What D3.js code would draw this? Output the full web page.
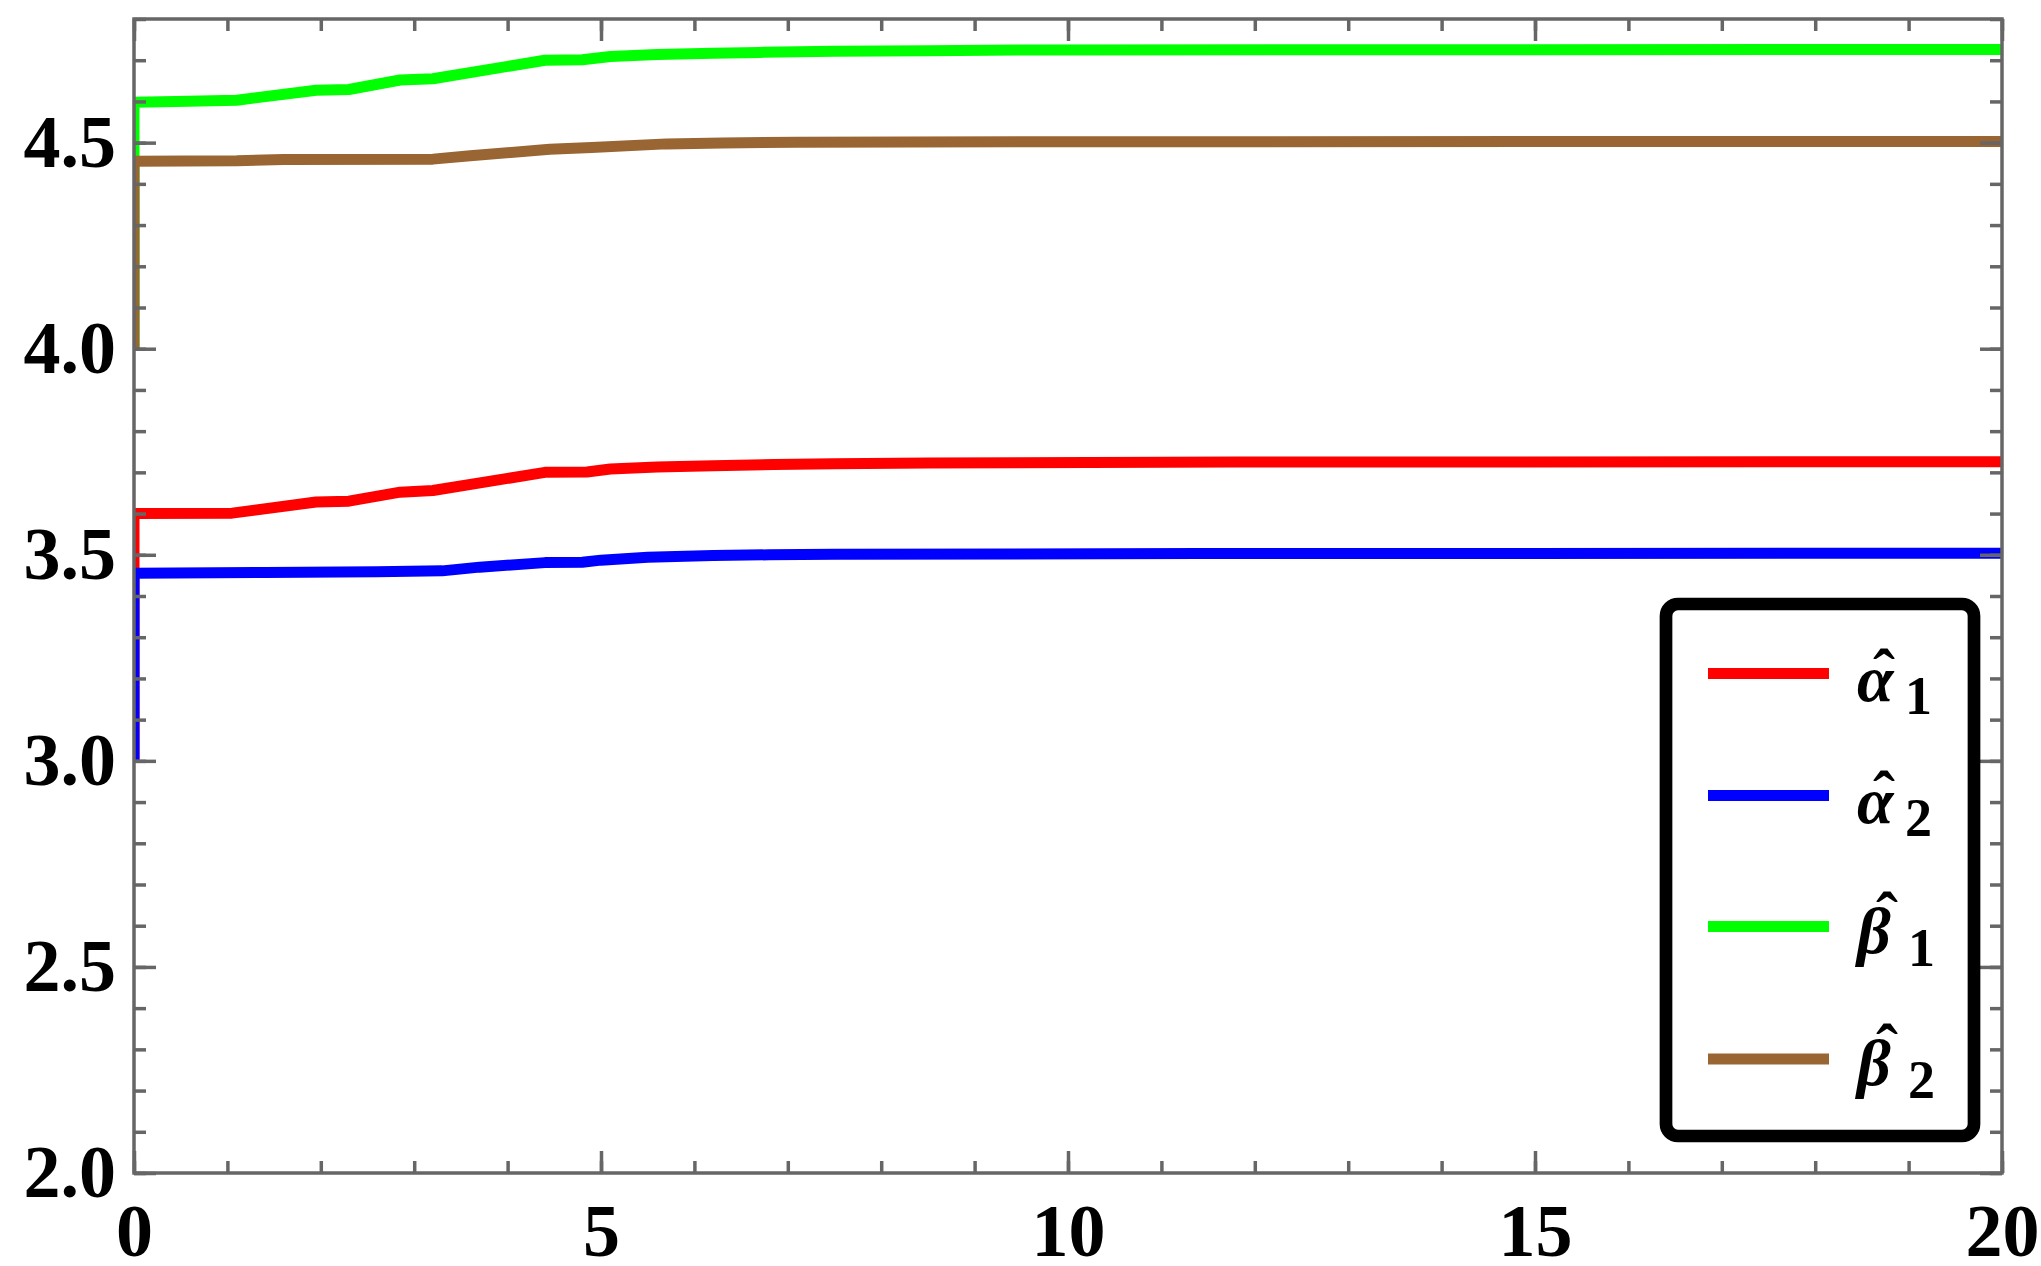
<!DOCTYPE html>
<meta charset="utf-8">
<script src="https://cdn.jsdelivr.net/npm/d3@7"></script>
<style>
  body { margin: 0; background: #fff; }
  svg { display: block; }
</style>
<body>
<div id="draw"></div>
</body>
<script>

  // estimates: [x, value]
  var alpha1 = [[0,3.0],[0,3.600],[1.05,3.601],[1.95,3.628],[2.3,3.630],[2.85,3.652],[3.2,3.656],
                [4.4,3.700],[4.85,3.701],[5.1,3.708],[5.6,3.713],[6.2,3.716],[6.85,3.719],[7.5,3.721],
                [8.5,3.723],[11.8,3.725],[20,3.726]];
  var alpha2 = [[0,3.0],[0,3.455],[1.4,3.457],[2.6,3.459],[3.3,3.461],[3.7,3.470],[4.4,3.481],
                [4.8,3.482],[5.0,3.487],[5.5,3.494],[6.2,3.498],[6.8,3.500],[7.5,3.501],
                [11.4,3.503],[20,3.504]];
  var beta1  = [[0,4.0],[0,4.598],[0.45,4.600],[1.1,4.603],[1.95,4.627],[2.3,4.629],[2.85,4.652],
                [3.2,4.655],[4.4,4.700],[4.8,4.701],[5.1,4.709],[5.6,4.714],[6.2,4.717],[6.7,4.719],
                [7.5,4.722],[8.5,4.723],[9.7,4.725],[20,4.726]];
  var beta2  = [[0,4.0],[0,4.455],[1.1,4.456],[1.6,4.459],[3.2,4.460],[3.6,4.468],[4.45,4.484],
                [4.9,4.488],[5.7,4.497],[6.3,4.499],[7.1,4.501],[9.6,4.502],[20,4.503]];

  var seriesList   = [alpha1, alpha2, beta1, beta2];
  var seriesColors = ["#ff0000", "#0000ff", "#00ff00", "#996633"];
  var legendSymbols = ["α", "α", "β", "β"];
  var legendSubs    = ["1", "2", "1", "2"];

  var xMajorTicks = [0, 5, 10, 15, 20];
  var xTickLabels = ["0", "5", "10", "15", "20"];
  var yMajorTicks = [2.0, 2.5, 3.0, 3.5, 4.0, 4.5];
  var yTickLabels = ["2.0", "2.5", "3.0", "3.5", "4.0", "4.5"];
  var xMinorTicks = d3.range(0, 21, 1);
  var yMinorTicks = d3.range(20, 49, 1).map(function(d){ return d / 10; });

  var width = 2041, height = 1266;
  var plot = {left: 134, right: 2002, top: 19, bottom: 1173};
  var frameColor = "#666666";
  var font = "'Liberation Serif', 'Times New Roman', serif";

  var svg = d3.select("#draw").append("svg")
    .attr("width", width).attr("height", height);

  var x = d3.scaleLinear().domain([0, 20]).range([plot.left, plot.right]);
  var y = d3.scaleLinear().domain([2, 4.8]).range([plot.bottom, plot.top]);

  svg.append("clipPath").attr("id", "plotclip")
    .append("rect")
    .attr("x", plot.left).attr("y", plot.top)
    .attr("width", plot.right - plot.left).attr("height", plot.bottom - plot.top);

  // data lines
  var line = d3.line().x(function(d){ return x(d[0]); }).y(function(d){ return y(d[1]); });
  svg.append("g").attr("clip-path", "url(#plotclip)")
    .selectAll("path").data(seriesList).enter().append("path")
    .attr("d", line)
    .attr("fill", "none")
    .attr("stroke", function(d, i){ return seriesColors[i]; })
    .attr("stroke-width", 11)
    .attr("stroke-linejoin", "round");

  // frame ticks (all pointing inward)
  function addAxis(axis, tx, ty, labels) {
    var g = svg.append("g").attr("transform", "translate(" + tx + "," + ty + ")").call(axis);
    g.select(".domain").remove();
    g.selectAll(".tick line").attr("stroke", frameColor).attr("stroke-width", 3.5);
    if (labels) {
      g.selectAll(".tick text")
        .attr("fill", "#000")
        .style("font-family", font)
        .style("font-weight", "bold")
        .style("font-size", "74px");
    } else {
      g.selectAll(".tick text").remove();
    }
    return g;
  }

  addAxis(d3.axisBottom(x).tickValues(xMinorTicks).tickSize(-12), 0, plot.bottom, false);
  addAxis(d3.axisTop(x).tickValues(xMinorTicks).tickSize(-12), 0, plot.top, false);
  addAxis(d3.axisLeft(y).tickValues(yMinorTicks).tickSize(-12), plot.left, 0, false);
  addAxis(d3.axisRight(y).tickValues(yMinorTicks).tickSize(-12), plot.right, 0, false);

  addAxis(d3.axisBottom(x).tickValues(xMajorTicks).tickSize(-22).tickPadding(30)
    .tickFormat(function(d, i){ return xTickLabels[i]; }), 0, plot.bottom, true);
  addAxis(d3.axisTop(x).tickValues(xMajorTicks).tickSize(-22), 0, plot.top, false);
  addAxis(d3.axisLeft(y).tickValues(yMajorTicks).tickSize(-22).tickPadding(18)
    .tickFormat(function(d, i){ return yTickLabels[i]; }), plot.left, 0, true);
  addAxis(d3.axisRight(y).tickValues(yMajorTicks).tickSize(-22), plot.right, 0, false);

  svg.append("rect")
    .attr("x", plot.left).attr("y", plot.top)
    .attr("width", plot.right - plot.left).attr("height", plot.bottom - plot.top)
    .attr("fill", "none").attr("stroke", frameColor).attr("stroke-width", 3.5);

  // legend
  var legend = svg.append("g");
  legend.append("rect")
    .attr("x", 1666).attr("y", 604).attr("width", 1974 - 1666).attr("height", 1136 - 604)
    .attr("rx", 12).attr("ry", 12)
    .attr("fill", "#fff").attr("stroke", "#000").attr("stroke-width", 12.7);

  var rowLineY = [673.6, 795.4, 926.6, 1059];
  var rowBaseY = [701, 823, 953, 1085];

  var rows = legend.selectAll("g.row").data(seriesColors).enter().append("g").attr("class", "row");
  rows.append("line")
    .attr("x1", 1708).attr("x2", 1829)
    .attr("y1", function(d, i){ return rowLineY[i]; })
    .attr("y2", function(d, i){ return rowLineY[i]; })
    .attr("stroke", function(d){ return d; })
    .attr("stroke-width", 11);

  // symbol, hat and subscript in one text element
  var labels = rows.append("text")
    .style("font-family", font)
    .style("font-weight", "bold")
    .style("font-size", "66px");
  labels.append("tspan")
    .attr("x", 1857)
    .attr("y", function(d, i){ return rowBaseY[i]; })
    .style("font-style", "italic")
    .text(function(d, i){ return legendSymbols[i]; });
  labels.append("tspan")
    .attr("x", function(d, i){ return legendSymbols[i] === "α" ? 1884 : 1887; })
    .attr("y", function(d, i){ return rowBaseY[i] + (legendSymbols[i] === "α" ? -6 : -15); })
    .attr("text-anchor", "middle")
    .text("ˆ");
  labels.append("tspan")
    .attr("x", function(d, i){ return legendSymbols[i] === "α" ? 1905 : 1908; })
    .attr("y", function(d, i){ return rowBaseY[i] + 13; })
    .style("font-size", "54px")
    .text(function(d, i){ return legendSubs[i]; });

</script>
